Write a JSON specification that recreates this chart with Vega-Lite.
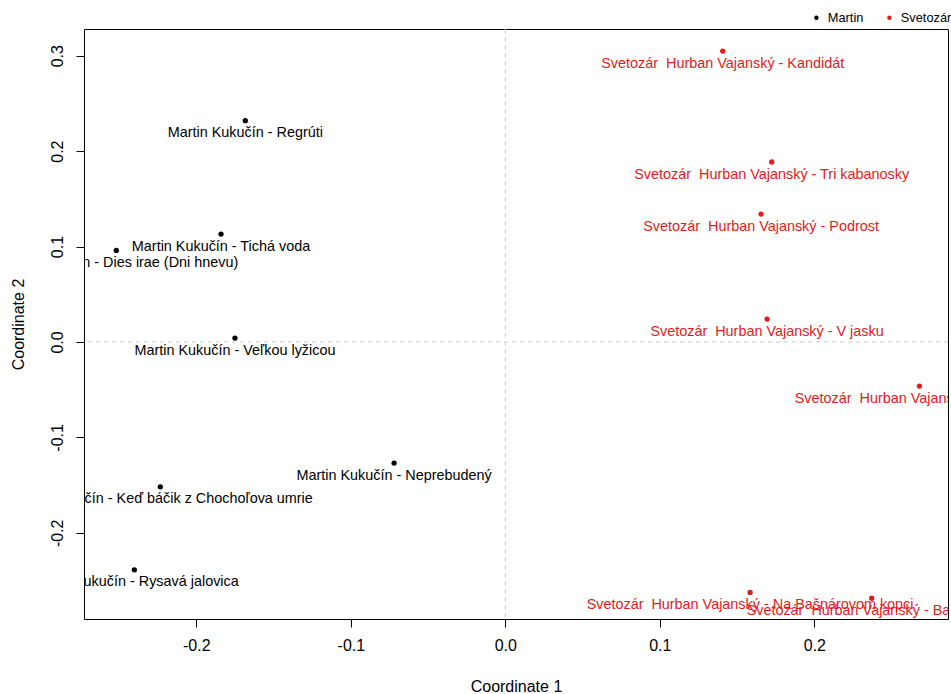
{
  "$schema": "https://vega.github.io/schema/vega-lite/v6.json",
  "width": 864,
  "height": 590,
  "autosize": {"type": "none"},
  "padding": {"left": 84, "top": 29, "right": 3, "bottom": 75},
  "background": "white",
  "config": {
    "view": {"stroke": "black", "strokeWidth": 1},
    "font": "Liberation Sans",
    "axis": {"labelFont": "Liberation Sans", "titleFont": "Liberation Sans", "labelFontSize": 16, "titleFontSize": 16, "labelColor": "black", "titleColor": "black", "titleFontWeight": "normal", "tickColor": "black", "tickSize": 8, "grid": false, "domain": false}
  },
  "data": {"values": [
    {"x": -0.1683, "y": 0.2319, "group": "Martin", "label": "Martin Kukučín - Regrúti"},
    {"x": -0.1840, "y": 0.1131, "group": "Martin", "label": "Martin Kukučín - Tichá voda"},
    {"x": -0.2518, "y": 0.0960, "group": "Martin", "label": "Martin Kukučín - Dies irae (Dni hnevu)"},
    {"x": -0.1750, "y": 0.0041, "group": "Martin", "label": "Martin Kukučín - Veľkou lyžicou"},
    {"x": -0.0720, "y": -0.1269, "group": "Martin", "label": "Martin Kukučín - Neprebudený"},
    {"x": -0.2233, "y": -0.1518, "group": "Martin", "label": "Martin Kukučín - Keď báčik z Chochoľova umrie"},
    {"x": -0.2401, "y": -0.2388, "group": "Martin", "label": "Martin Kukučín - Rysavá jalovica"},
    {"x": 0.1407, "y": 0.3049, "group": "Svetozár", "label": "Svetozár\u00a0 Hurban Vajanský - Kandidát"},
    {"x": 0.1724, "y": 0.1886, "group": "Svetozár", "label": "Svetozár\u00a0 Hurban Vajanský - Tri kabanosky"},
    {"x": 0.1655, "y": 0.1341, "group": "Svetozár", "label": "Svetozár\u00a0 Hurban Vajanský - Podrost"},
    {"x": 0.1694, "y": 0.0240, "group": "Svetozár", "label": "Svetozár\u00a0 Hurban Vajanský - V jasku"},
    {"x": 0.2680, "y": -0.0462, "group": "Svetozár", "label": "Svetozár\u00a0 Hurban Vajanský - Pustokvet"},
    {"x": 0.1584, "y": -0.2625, "group": "Svetozár", "label": "Svetozár\u00a0 Hurban Vajanský - Na Bašnárovom kopci"},
    {"x": 0.2371, "y": -0.2685, "group": "Svetozár", "label": "Svetozár\u00a0 Hurban Vajanský - Babie leto"}
  ]},
  "encoding": {
    "x": {"field": "x", "type": "quantitative",
      "scale": {"domain": [-0.2727, 0.2865], "nice": false, "zero": false},
      "axis": {"title": "Coordinate 1", "values": [-0.2, -0.1, 0, 0.1, 0.2], "labelPadding": 10, "labelExpr": "datum.value < 0 ? '-' + format(-datum.value, '.1f') : format(datum.value, '.1f')", "titleY": 67, "titleBaseline": "middle"}},
    "y": {"field": "y", "type": "quantitative",
      "scale": {"domain": [-0.2903, 0.328], "nice": false, "zero": false},
      "axis": {"title": "Coordinate 2", "values": [-0.2, -0.1, 0, 0.1, 0.2, 0.3], "labelAngle": -90, "labelAlign": "center", "labelBaseline": "bottom", "labelPadding": 11, "labelExpr": "datum.value < 0 ? '-' + format(-datum.value, '.1f') : format(datum.value, '.1f')", "titleX": -66, "titleBaseline": "middle"}}
  },
  "layer": [
    {
      "data": {"values": [{"v": 0}]},
      "mark": {"type": "rule", "color": "#cccccc", "strokeDash": [4, 4], "strokeWidth": 1},
      "encoding": {"x": {"field": "v", "type": "quantitative"}, "y": null}
    },
    {
      "data": {"values": [{"v": 0}]},
      "mark": {"type": "rule", "color": "#cccccc", "strokeDash": [4, 4], "strokeWidth": 1},
      "encoding": {"y": {"field": "v", "type": "quantitative"}, "x": null}
    },
    {
      "mark": {"type": "point", "filled": true, "size": 28, "opacity": 1},
      "encoding": {
        "color": {"field": "group", "type": "nominal",
          "scale": {"domain": ["Martin", "Svetozár"], "range": ["black", "#e41a1c"]},
          "legend": {"title": null, "orient": "none", "legendX": 726, "legendY": -18, "direction": "horizontal", "padding": 0,
            "symbolType": "circle", "symbolSize": 20, "labelOffset": 5, "columnPadding": 19,
            "labelFont": "Liberation Sans", "labelFontSize": 12.8, "labelColor": "black",
            "encode": {"symbols": {"update": {"fill": {"value": "black"}, "stroke": {"value": "black"}}}}}}
      }
    },
    {
      "mark": {"type": "text", "clip": true, "dy": 12.5, "align": "center", "baseline": "middle", "font": "Liberation Sans", "fontSize": 14.4},
      "encoding": {
        "text": {"field": "label"},
        "color": {"field": "group", "type": "nominal", "legend": null}
      }
    }
  ]
}
